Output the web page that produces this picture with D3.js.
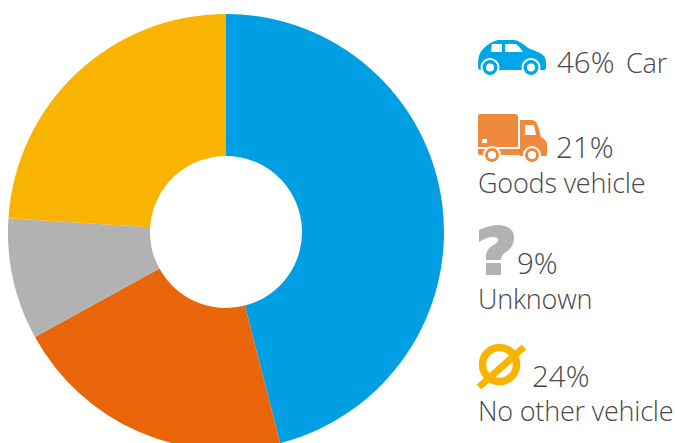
<!DOCTYPE html>
<html>
<head>
<meta charset="utf-8">
<script src="https://cdn.jsdelivr.net/npm/d3@7/dist/d3.min.js"></script>
<style>
html,body{margin:0;padding:0;background:#fff;}
svg{display:block;}
text{font-family:"Open Sans","Noto Sans",sans-serif;font-weight:300;fill:#484848;}
.pct{font-size:29.5px;}
.name{font-size:27px;letter-spacing:-0.2px;}
</style>
</head>
<body>
<svg id="chart" width="675" height="443"></svg>
<script>
// Share of collisions by other vehicle involved
const categories = ["Car", "Goods vehicle", "Unknown", "No other vehicle"];
const shares = [46, 21, 9, 24];
const sliceColors = ["#009fe3", "#e8650a", "#b2b2b2", "#f8b400"];
const iconColors = ["#00a7e6", "#ef8a3c", "#b2b2b2", "#f8b400"];

const svg = d3.select("#chart");

const pie = d3.pie().sort(null).value(d => d);
const arc = d3.arc().innerRadius(76).outerRadius(218);

svg.append("g")
  .attr("transform", "translate(226,232)")
  .selectAll("path")
  .data(pie(shares))
  .join("path")
  .attr("d", arc)
  .attr("fill", (d, i) => sliceColors[i]);

// Legend rows: glyph on top-left, percentage beside it, name beside or below it
const rows = [
  {pctX: 557, pctY: 73, nameX: 626, nameY: 73},
  {pctX: 556, pctY: 158, nameX: 478, nameY: 193},
  {pctX: 517, pctY: 274, nameX: 478, nameY: 309},
  {pctX: 532, pctY: 387, nameX: 478, nameY: 421}
];

const legend = svg.append("g");

rows.forEach((r, i) => {
  legend.append("text").attr("class", "pct").attr("x", r.pctX).attr("y", r.pctY).text(shares[i] + "%");
  legend.append("text").attr("class", "name").attr("x", r.nameX).attr("y", r.nameY).text(categories[i]);
});

// Car glyph
const car = legend.append("g").attr("fill", iconColors[0]);
car.append("path").attr("fill-rule", "evenodd").attr("d",
  "M478 63 Q478 53 484 48 Q490 42 498 40 L514 40 Q519 40 528 48 L540 53 Q546 56 546 62 L546 68 Q546 70 544 70 L481 70 Q478 70 478 67 Z" +
  "M492 44 L502 44 L502 52 L491 52 Z M505 44 L516 44 Q519 46 523 52 L505 52 Z");
car.selectAll("circle.tyre").data([490, 531]).join("circle")
  .attr("class", "tyre").attr("cx", d => d).attr("cy", 67.5).attr("r", 8.5)
  .attr("fill", iconColors[0]).attr("stroke", "#fff").attr("stroke-width", 2);
car.selectAll("circle.hub").data([490, 531]).join("circle")
  .attr("class", "hub").attr("cx", d => d).attr("cy", 67.5).attr("r", 4).attr("fill", "#fff");

// Truck glyph
const truck = legend.append("g").attr("fill", iconColors[1]);
truck.append("path").attr("fill-rule", "evenodd").attr("d",
  "M480 114 L515 114 Q518 114 518 117 L518 147 L478 147 L478 116 Q478 114 480 114 Z" +
  "M482 139 L487 139 L487 143 L482 143 Z");
truck.append("path").attr("fill-rule", "evenodd").attr("d",
  "M520 120 L532 120 Q536 120 538 126 L541 137 Q547 140 547 145 L547 154 Q547 156 545 156 L520 156 Z" +
  "M525 125 L534 125 L536 135 L525 135 Z");
truck.append("path").attr("d", "M478 149 L520 149 L520 155 L480 155 Q478 155 478 153 Z");
truck.selectAll("circle.tyre").data([492, 532]).join("circle")
  .attr("class", "tyre").attr("cx", d => d).attr("cy", 155).attr("r", 8)
  .attr("fill", iconColors[1]).attr("stroke", "#fff").attr("stroke-width", 2);
truck.selectAll("circle.hub").data([492, 532]).join("circle")
  .attr("class", "hub").attr("cx", d => d).attr("cy", 155).attr("r", 4).attr("fill", "#fff");

// Question mark glyph
legend.append("path").attr("fill", iconColors[2]).attr("fill-rule", "evenodd").attr("d",
  "M479 230 Q490 225 499 225 Q514 226 514 238 Q514 247 506 252 Q501 255 501 260 L486 260 Q485 250 492 246 Q499 242 498 239 Q497 237 493 237 Q487 237 479 242 Z" +
  "M486 263 L501 263 L501 275 L486 275 Z");

// Crossed-circle glyph
const none = legend.append("g").attr("fill", "none").attr("stroke", iconColors[3]);
none.append("circle").attr("cx", 499.5).attr("cy", 364.5).attr("r", 17).attr("stroke-width", 7.5);
none.append("line").attr("x1", 479).attr("y1", 387).attr("x2", 524).attr("y2", 347).attr("stroke-width", 7);
</script>
</body>
</html>
